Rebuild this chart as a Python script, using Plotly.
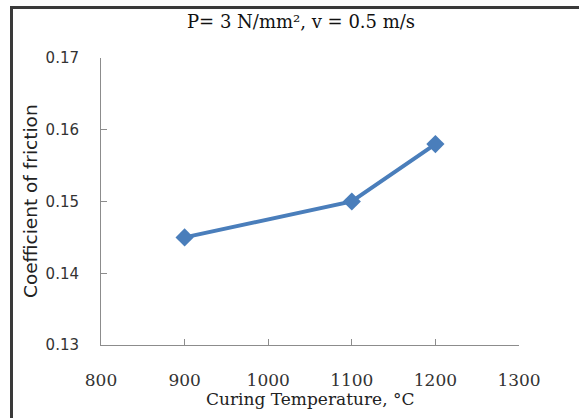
import plotly.graph_objects as go

# Data
temperature = [900, 1100, 1200]
friction = [0.145, 0.150, 0.158]
x_ticks = [800, 900, 1000, 1100, 1200, 1300]
y_ticks = [0.13, 0.14, 0.15, 0.16, 0.17]
y_tick_text = ["0.13", "0.14", "0.15", "0.16", "0.17"]

W, H = 579, 418
L, R, T, B = 101, 60, 58, 73
PW, PH = W - L - R, H - T - B


def px(x):
    return (x - L) / PW


def py(y):
    return (H - B - y) / PH


fig = go.Figure()
fig.add_trace(go.Scatter(
    x=temperature, y=friction, mode="lines+markers",
    line=dict(color="#4A7EBB", width=4),
    marker=dict(symbol="diamond", size=14, color="#4A7EBB"),
    showlegend=False, hoverinfo="skip",
))

axis_common = dict(
    showgrid=False, zeroline=False, showline=True, linecolor="#8C8C8C", linewidth=1,
    ticks="inside", ticklen=6, tickcolor="#8C8C8C", tickwidth=1,
)
fig.update_xaxes(range=[800, 1300], tickvals=x_ticks,
                 tickfont=dict(family="DejaVu Serif", size=17, color="#333333"),
                 ticklabelstandoff=20, **axis_common)
fig.update_yaxes(range=[0.13, 0.17], tickvals=y_ticks, ticktext=y_tick_text,
                 tickfont=dict(family="DejaVu Sans", size=15, color="#333333"),
                 ticklabelstandoff=18, **axis_common)

fig.update_layout(
    width=W, height=H, margin=dict(l=L, r=R, t=T, b=B),
    paper_bgcolor="white", plot_bgcolor="white",
    annotations=[
        dict(text="P= 3 N/mm², v = 0.5 m/s", x=px(301), y=py(22), xref="paper", yref="paper",
             showarrow=False, xanchor="center", yanchor="middle",
             font=dict(family="DejaVu Serif", size=18, color="#111111")),
        dict(text="Curing Temperature, °C", x=px(310), y=py(399), xref="paper", yref="paper",
             showarrow=False, xanchor="center", yanchor="middle",
             font=dict(family="DejaVu Serif", size=17, color="#222222")),
        dict(text="Coefficient of friction", x=px(30), y=py(201), xref="paper", yref="paper",
             showarrow=False, xanchor="center", yanchor="middle", textangle=-90,
             font=dict(family="DejaVu Sans", size=18.5, color="#222222")),
    ],
    shapes=[
        dict(type="line", xref="paper", yref="paper", x0=px(11.5), x1=px(11.5), y0=py(7.5), y1=py(H + 2),
             line=dict(color="#3A3A3A", width=3)),
        dict(type="line", xref="paper", yref="paper", x0=px(10), x1=px(W + 2), y0=py(7.5), y1=py(7.5),
             line=dict(color="#3A3A3A", width=3)),
    ],
)

fig.write_html("out.html", config={"displayModeBar": False},
               post_script="document.body.style.margin='0';document.body.style.overflow='hidden';")
